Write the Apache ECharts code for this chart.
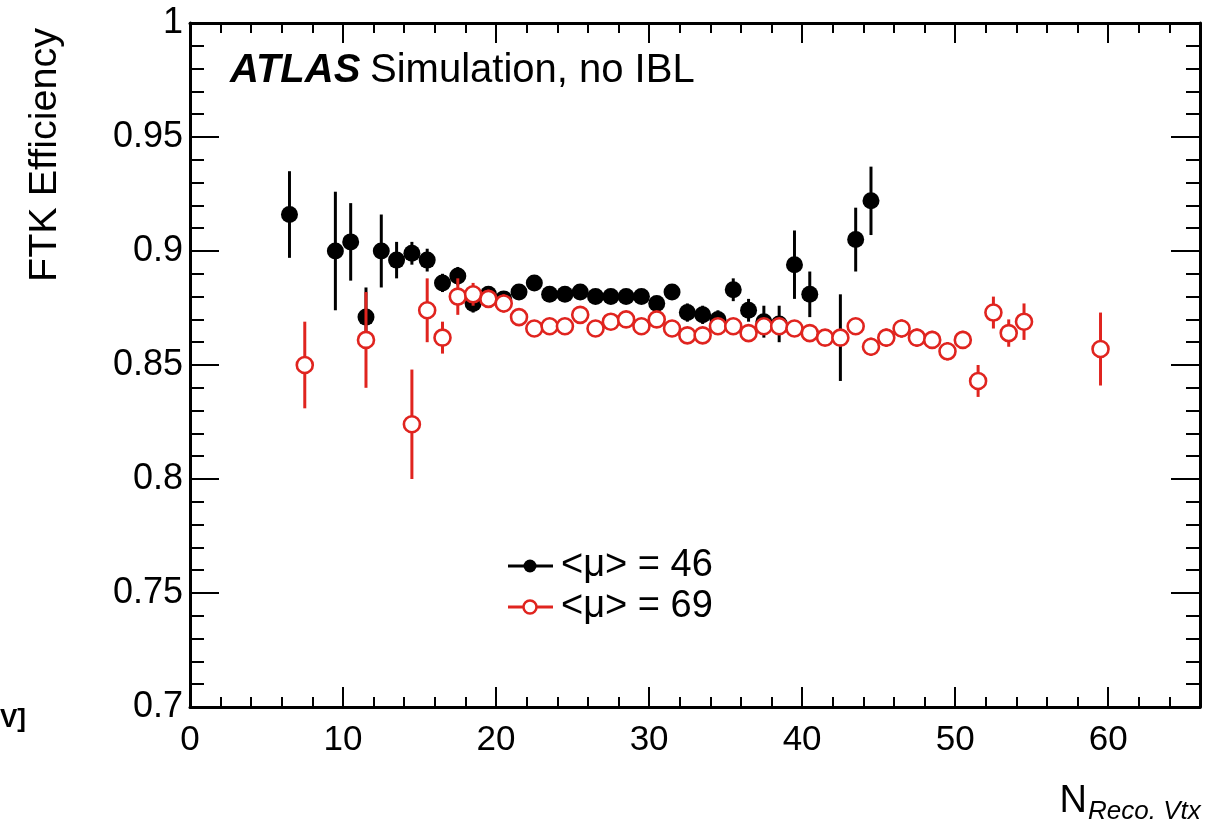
<!DOCTYPE html>
<html>
<head>
<meta charset="utf-8">
<script src="https://cdn.jsdelivr.net/npm/echarts@6/dist/echarts.min.js"></script>
<style>
html,body{margin:0;padding:0;background:#fff;}
#chart{width:1225px;height:833px;}
</style>
</head>
<body>
<div id="chart"></div>
<script>
// ---- data ----
const xBlack = [6.5, 9.5, 10.5, 11.5, 12.5, 13.5, 14.5, 15.5, 16.5, 17.5, 18.5, 19.5, 20.5, 21.5, 22.5, 23.5, 24.5, 25.5, 26.5, 27.5, 28.5, 29.5, 30.5, 31.5, 32.5, 33.5, 34.5, 35.5, 36.5, 37.5, 38.5, 39.5, 40.5, 42.5, 43.5, 44.5];
const effBlack = [0.916, 0.900, 0.904, 0.871, 0.900, 0.896, 0.899, 0.896, 0.886, 0.889, 0.877, 0.881, 0.879, 0.882, 0.886, 0.881, 0.881, 0.882, 0.880, 0.880, 0.880, 0.880, 0.877, 0.882, 0.873, 0.872, 0.870, 0.883, 0.874, 0.869, 0.868, 0.894, 0.881, 0.862, 0.905, 0.922];
const errBlack = [0.019, 0.026, 0.017, 0.013, 0.016, 0.008, 0.005, 0.005, 0.004, 0.004, 0.004, 0.003, 0.003, 0.003, 0.003, 0.003, 0.003, 0.003, 0.003, 0.003, 0.003, 0.003, 0.003, 0.003, 0.004, 0.004, 0.004, 0.005, 0.005, 0.007, 0.008, 0.015, 0.010, 0.019, 0.014, 0.015];

const xRed = [7.5, 11.5, 14.5, 15.5, 16.5, 17.5, 18.5, 19.5, 20.5, 21.5, 22.5, 23.5, 24.5, 25.5, 26.5, 27.5, 28.5, 29.5, 30.5, 31.5, 32.5, 33.5, 34.5, 35.5, 36.5, 37.5, 38.5, 39.5, 40.5, 41.5, 42.5, 43.5, 44.5, 45.5, 46.5, 47.5, 48.5, 49.5, 50.5, 51.5, 52.5, 53.5, 54.5, 59.5];
const effRed = [0.850, 0.861, 0.824, 0.874, 0.862, 0.880, 0.881, 0.879, 0.877, 0.871, 0.866, 0.867, 0.867, 0.872, 0.866, 0.869, 0.870, 0.867, 0.870, 0.866, 0.863, 0.863, 0.867, 0.867, 0.864, 0.867, 0.867, 0.866, 0.864, 0.862, 0.862, 0.867, 0.858, 0.862, 0.866, 0.862, 0.861, 0.856, 0.861, 0.843, 0.873, 0.864, 0.869, 0.857];
const errRed = [0.019, 0.021, 0.024, 0.014, 0.007, 0.008, 0.005, 0.004, 0.004, 0.003, 0.003, 0.003, 0.003, 0.003, 0.003, 0.003, 0.003, 0.003, 0.003, 0.003, 0.003, 0.003, 0.003, 0.003, 0.003, 0.003, 0.003, 0.003, 0.003, 0.003, 0.003, 0.003, 0.004, 0.004, 0.004, 0.004, 0.004, 0.004, 0.004, 0.007, 0.007, 0.006, 0.008, 0.016];

const legendLabels = ['<μ> = 46', '<μ> = 69'];
const yTitle = 'FTK Efficiency';
const xTitleMain = 'N';
const xTitleSub = 'Reco. Vtx';

const BLACK = '#000000';
const RED = '#e0241f';
const FONT = '"Liberation Sans", Arial, Helvetica, sans-serif';

const chart = echarts.init(document.getElementById('chart'), null, {renderer: 'canvas'});

function errSeries(xs, ys, es, color, z) {
  return {
    type: 'custom',
    z: z,
    xAxisIndex: 0, yAxisIndex: 0,
    data: xs.map((x, i) => [x, ys[i], es[i]]),
    renderItem: function (params, api) {
      const x = api.value(0), y = api.value(1), e = api.value(2);
      const p1 = api.coord([x, y - e]);
      const p2 = api.coord([x, y + e]);
      return {
        type: 'line',
        shape: {x1: p1[0], y1: p1[1], x2: p2[0], y2: p2[1]},
        style: {stroke: color, lineWidth: 3}
      };
    },
    silent: true
  };
}

const grid = {left: 190, top: 23, right: 25, bottom: 126};

function xAx(pos, interval, tickLen, showLabel, showLine) {
  return {
    type: 'value', position: pos, min: 0, max: 66, interval: interval,
    axisLine: {show: showLine, onZero: false, lineStyle: {color: BLACK, width: 3}},
    axisTick: {show: true, inside: true, length: tickLen, lineStyle: {color: BLACK, width: 2}},
    axisLabel: {
      show: showLabel, color: BLACK, fontSize: 35, fontFamily: FONT, margin: 16,
      formatter: v => (Math.abs(v % 10) < 1e-6 && v <= 60) ? String(v) : ''
    },
    splitLine: {show: false}
  };
}
function yAx(pos, showLabel) {
  return {
    type: 'value', position: pos, min: 0.7, max: 1.0, interval: 0.05,
    axisLine: {show: true, onZero: false, lineStyle: {color: BLACK, width: 3}},
    axisTick: {show: true, inside: true, length: 29, lineStyle: {color: BLACK, width: 2}},
    minorTick: {show: true, splitNumber: 5, length: 14, lineStyle: {color: BLACK, width: 2}},
    axisLabel: {show: showLabel, color: BLACK, fontSize: 36, fontFamily: FONT, margin: 7,
      formatter: v => String(Math.round(v * 100) / 100)},
    splitLine: {show: false}, minorSplitLine: {show: false}
  };
}

const option = {
  backgroundColor: '#ffffff',
  animation: false,
  grid: grid,
  xAxis: [
    xAx('bottom', 2, 10, true, true),
    xAx('bottom', 10, 20, false, false),
    xAx('top', 2, 10, false, true),
    xAx('top', 10, 20, false, false)
  ],
  yAxis: [yAx('left', true), yAx('right', false)],
  series: [
    errSeries(xBlack, effBlack, errBlack, BLACK, 2),
    {
      type: 'scatter', name: legendLabels[0], z: 3,
      xAxisIndex: 0, yAxisIndex: 0,
      data: xBlack.map((x, i) => [x, effBlack[i]]),
      symbol: 'circle', symbolSize: 17,
      itemStyle: {color: BLACK, opacity: 1},
      silent: true
    },
    errSeries(xRed, effRed, errRed, RED, 4),
    {
      type: 'scatter', name: legendLabels[1], z: 5,
      xAxisIndex: 0, yAxisIndex: 0,
      data: xRed.map((x, i) => [x, effRed[i]]),
      symbol: 'circle', symbolSize: 16,
      itemStyle: {color: '#ffffff', borderColor: RED, borderWidth: 2.6, opacity: 1},
      silent: true
    }
  ],
  graphic: [
    // y-axis title
    {type: 'text', x: 45, y: 28, rotation: Math.PI / 2,
      style: {text: yTitle, font: '39.5px ' + FONT, fill: BLACK, align: 'right', verticalAlign: 'middle'}},
    // ATLAS label
    {type: 'text', x: 230, y: 71,
      style: {text: 'ATLAS', font: 'italic bold 40px ' + FONT, fill: BLACK, align: 'left', verticalAlign: 'middle'}},
    {type: 'text', x: 370, y: 71,
      style: {text: 'Simulation, no IBL', font: '40px ' + FONT, fill: BLACK, align: 'left', verticalAlign: 'middle'}},
    // legend
    {type: 'line', shape: {x1: 508, y1: 566, x2: 553, y2: 566}, style: {stroke: BLACK, lineWidth: 3}},
    {type: 'circle', shape: {cx: 530, cy: 566, r: 6.5}, style: {fill: BLACK}},
    {type: 'text', x: 561, y: 566,
      style: {text: legendLabels[0], font: '38px ' + FONT, fill: BLACK, align: 'left', verticalAlign: 'middle'}},
    {type: 'line', shape: {x1: 508, y1: 607, x2: 553, y2: 607}, style: {stroke: RED, lineWidth: 3}},
    {type: 'circle', shape: {cx: 530, cy: 607, r: 6.5}, style: {fill: '#ffffff', stroke: RED, lineWidth: 2.5}},
    {type: 'text', x: 561, y: 607,
      style: {text: legendLabels[1], font: '38px ' + FONT, fill: BLACK, align: 'left', verticalAlign: 'middle'}},
    // x-axis title
    {type: 'text', x: 1087, y: 802,
      style: {text: xTitleMain, font: '38px ' + FONT, fill: BLACK, align: 'right', verticalAlign: 'middle'}},
    {type: 'text', x: 1088, y: 812,
      style: {text: xTitleSub, font: 'italic 26px ' + FONT, fill: BLACK, align: 'left', verticalAlign: 'middle'}},
    // stray clipped label at left edge
    {type: 'text', x: 0, y: 720,
      style: {text: 'V]', font: 'bold 26px ' + FONT, fill: BLACK, align: 'left', verticalAlign: 'middle'}}
  ]
};
chart.setOption(option);
</script>
</body>
</html>
